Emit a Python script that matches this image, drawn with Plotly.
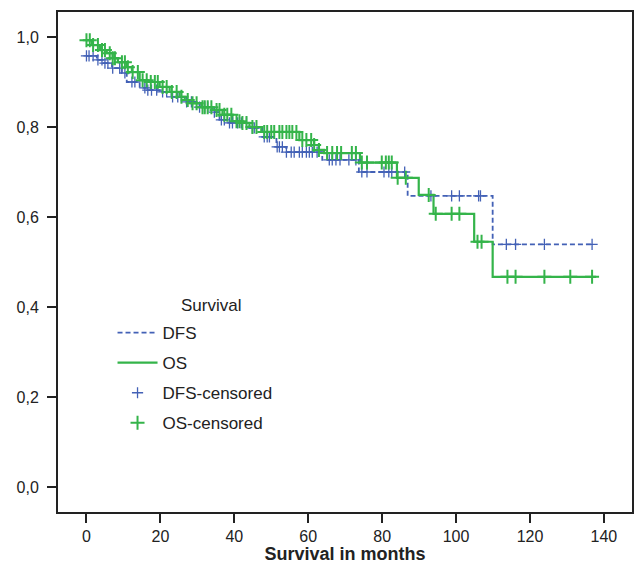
import plotly.graph_objects as go

# Kaplan-Meier step data (months, survival)
dfs_t = [0, 2.8, 4.4, 6.9, 9.6, 10.9, 14.4, 16.3, 19.8, 23.0, 27.1, 30.6, 34.1, 36.0, 38.7,
         44.1, 47.6, 51.4, 54.1, 63.8, 73.7, 86.9, 109.9, 137.2]
dfs_s = [0.958, 0.949, 0.942, 0.931, 0.920, 0.900, 0.887, 0.882, 0.878, 0.867, 0.856, 0.844,
         0.833, 0.816, 0.809, 0.798, 0.778, 0.756, 0.744, 0.727, 0.700, 0.647, 0.539, 0.539]

os_t = [0, 1.5, 3.7, 5.5, 7.1, 8.5, 10.9, 12.3, 14.4, 16.5, 19.8, 22.5, 25.2, 26.6, 28.7,
        31.1, 34.1, 36.8, 39.5, 42.2, 44.1, 47.3, 57.6, 61.6, 62.9, 64.3, 74.0, 84.0, 89.9,
        93.9, 104.9, 109.9, 137.9]
os_s = [0.993, 0.982, 0.971, 0.964, 0.953, 0.944, 0.933, 0.922, 0.904, 0.900, 0.889, 0.878,
        0.867, 0.860, 0.853, 0.844, 0.838, 0.827, 0.813, 0.809, 0.800, 0.789, 0.771, 0.760,
        0.749, 0.742, 0.721, 0.687, 0.649, 0.607, 0.545, 0.467, 0.467]

# censoring times (months)
dfs_cens = [0, 0.7, 1.8, 3.1, 4.2, 5.0, 5.8, 7.1, 9.0, 10.4, 12.3, 13.1, 15.8, 16.6, 17.6,
            19.0, 20.6, 21.7, 23.3, 24.7, 25.7, 27.1, 28.4, 30.6, 32.0, 32.8, 34.6, 36.5,
            37.3, 38.7, 39.5, 40.9, 41.9, 43.3, 44.9, 45.4, 48.1, 48.9, 49.5, 51.6, 52.2,
            53.0, 54.1, 55.4, 56.2, 57.6, 58.4, 59.5, 60.3, 61.1, 62.4, 65.7, 66.5, 67.5,
            68.6, 71.0, 72.9, 74.5, 75.9, 80.5, 81.8, 82.6, 86.1, 93.2, 98.8, 100.9, 106.1,
            106.6, 113.6, 116.1, 123.9, 136.8]
os_cens = [0, 0.9, 1.8, 3.1, 4.2, 5.0, 6.3, 7.1, 7.7, 9.6, 10.4, 11.2, 12.5, 13.9, 15.2,
           16.3, 17.4, 18.5, 19.3, 20.6, 21.7, 23.1, 24.4, 25.7, 27.4, 28.7, 29.8, 31.4,
           32.0, 32.8, 33.8, 35.2, 36.0, 37.3, 38.1, 39.2, 40.6, 41.4, 42.2, 43.3, 44.9,
           46.0, 48.1, 48.9, 50.0, 50.8, 52.2, 53.0, 54.1, 54.9, 55.7, 56.8, 58.4, 59.5,
           60.8, 61.6, 62.9, 65.1, 66.5, 67.8, 68.9, 71.8, 72.9, 74.5, 75.9, 79.9, 81.0,
           81.8, 82.6, 84.2, 86.4, 92.6, 94.5, 98.8, 100.9, 105.8, 106.9, 113.9, 116.1,
           123.9, 130.9, 136.8]

x_ticks = [0, 20, 40, 60, 80, 100, 120, 140]
y_ticks = [0.0, 0.2, 0.4, 0.6, 0.8, 1.0]

BLUE = "#4361B6"
GREEN = "#34B44A"


def step_at(ts, ss, t):
    v = ss[0]
    for ti, si in zip(ts, ss):
        if ti <= t:
            v = si
        else:
            break
    return v


fig = go.Figure()
fig.add_trace(go.Scatter(x=dfs_t, y=dfs_s, mode="lines", name="DFS",
                         line=dict(color=BLUE, width=1.8, dash="5px,3px", shape="hv")))
fig.add_trace(go.Scatter(x=os_t, y=os_s, mode="lines", name="OS",
                         line=dict(color=GREEN, width=2.2, shape="hv")))
fig.add_trace(go.Scatter(x=dfs_cens, y=[step_at(dfs_t, dfs_s, t) for t in dfs_cens],
                         mode="markers", name="DFS-censored",
                         marker=dict(symbol="cross-thin", size=8,
                                     line=dict(color=BLUE, width=1.3))))
fig.add_trace(go.Scatter(x=os_cens, y=[step_at(os_t, os_s, t) for t in os_cens],
                         mode="markers", name="OS-censored",
                         marker=dict(symbol="cross-thin", size=10,
                                     line=dict(color=GREEN, width=2))))

fig.update_layout(
    width=636, height=564,
    margin=dict(l=58, r=2, t=12, b=52),
    paper_bgcolor="white", plot_bgcolor="white",
    separators=",.",
    font=dict(family="Liberation Sans, Arial, sans-serif", size=16, color="#222"),
    showlegend=True,
    legend=dict(x=0.095, y=0.394, xanchor="left", yanchor="top",
                bgcolor="rgba(0,0,0,0)",
                font=dict(size=17, color="#222"),
                tracegroupgap=5, itemwidth=40),
    annotations=[dict(text="Survival", x=0.266, y=0.414, xref="paper", yref="paper",
                      xanchor="center", yanchor="middle", showarrow=False,
                      font=dict(size=17, color="#222"))],
    xaxis=dict(range=[-7.7, 147.6], tickvals=x_ticks, ticks="outside", ticklen=9,
               tickwidth=1.5, tickcolor="#222", showline=True, linecolor="#222",
               linewidth=2, mirror=True, showgrid=False, zeroline=False,
               tickfont=dict(size=16),
               title=dict(text="<b>Survival in months</b>", font=dict(size=18), standoff=0)),
    yaxis=dict(range=[-0.0556, 1.0556], tickvals=y_ticks, tickformat=".1f",
               ticks="outside", ticklen=9, tickwidth=1.5, tickcolor="#222",
               showline=True, linecolor="#222", linewidth=2, mirror=True,
               showgrid=False, zeroline=False, tickfont=dict(size=16),
               ticklabelstandoff=5),
)
for i, tr in enumerate(fig.data):
    tr.legendgroup = "g%d" % i

fig.write_html("out.html")
